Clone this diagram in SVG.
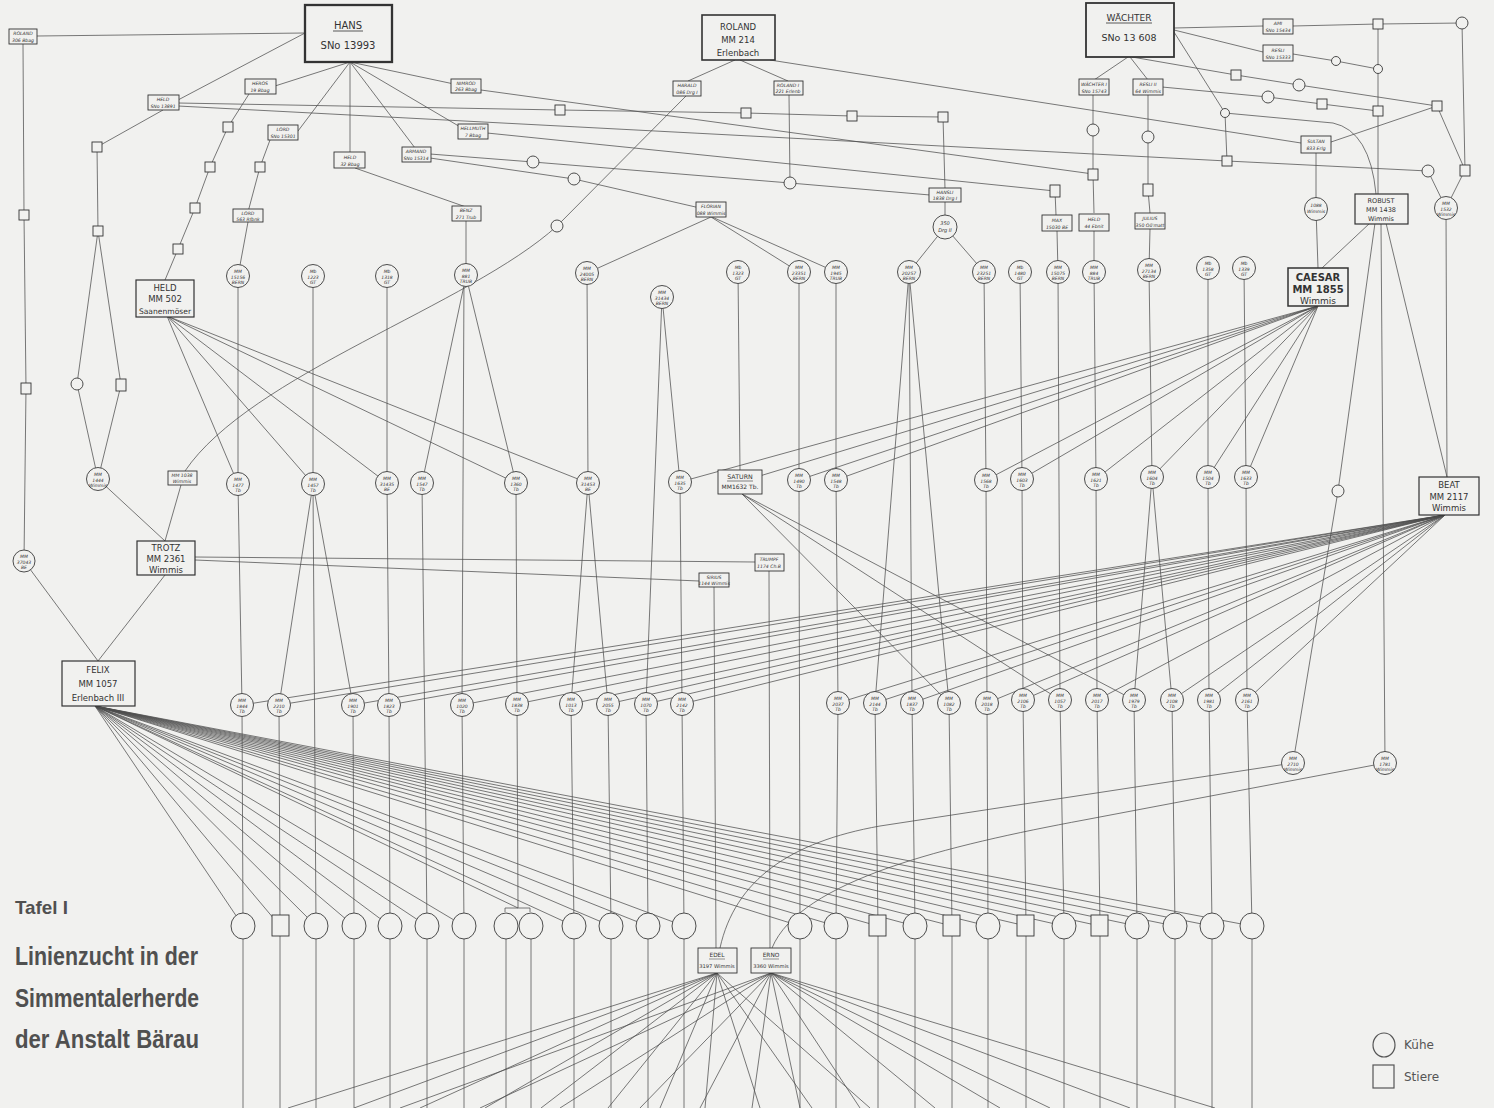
<svg xmlns="http://www.w3.org/2000/svg" width="1494" height="1108" viewBox="0 0 1494 1108">
<style>
.ln{stroke:#4e4e4e;stroke-width:0.75;fill:none}
.c{fill:#f1f1ef;stroke:#3a3a3a;stroke-width:0.9}
.sb{fill:#f1f1ef;stroke:#333;stroke-width:0.9}
.bb{fill:#f1f1ef;stroke:#333;stroke-width:1.2}
.s{font-family:"DejaVu Sans",sans-serif;font-size:4.6px;font-style:italic;fill:#333;text-anchor:middle}
.ct{font-family:"DejaVu Sans",sans-serif;font-size:4.5px;font-style:italic;fill:#333;text-anchor:middle}
.bt{font-family:"DejaVu Sans",sans-serif;font-size:8.5px;fill:#333;text-anchor:middle}
.ti{font-family:"Liberation Sans",sans-serif;font-weight:bold;fill:#505050}
.lg{font-family:"DejaVu Sans",sans-serif;font-size:12px;fill:#555}
</style>
<rect width="1494" height="1108" fill="#f1f1ef"/>

<g id="connectors" class="ln">
<path d="M37,36 L305,33"/>
<path d="M178,100 L305,33"/>
<path d="M23,44 L24,215 L26,388 L24,561"/>
<path d="M24,561 L98,661"/>
<path d="M163,110 L97,147 L98,231"/>
<path d="M98,231 L77,384 L98,479"/>
<path d="M98,231 L121,385 L98,479"/>
<path d="M98,479 L165,541"/>
<path d="M350,62 L275,86"/>
<path d="M249,94 L228,127 L210,167 L195,208 L178,249 L165,280"/>
<path d="M350,62 L298,131"/>
<path d="M270,140 L260,167 L248,212"/>
<path d="M248,222 L238,276"/>
<path d="M350,62 L350,152"/>
<path d="M355,168 L466,207"/>
<path d="M466,221 L466,276"/>
<path d="M350,62 L415,148"/>
<path d="M350,62 L462,128"/>
<path d="M350,62 L454,84"/>
<path d="M178,103 L560,110 L746,113 L852,116 L943,117 L945,189"/>
<path d="M178,106 L1227,161 L1428,171 L1446,208"/>
<path d="M481,90 L1093,174"/>
<path d="M487,133 L1055,191 L1056,215"/>
<path d="M430,154 L533,162 L790,183 L930,195"/>
<path d="M430,158 L574,179 L700,208"/>
<path d="M735,60 L688,81"/>
<path d="M740,60 L788,81"/>
<path d="M770,60 L1301,143"/>
<path d="M789,95 L790,183"/>
<path d="M686,96 L557,226 C470,305 250,375 185,471 L165,541"/>
<path d="M945,202 L945,227"/>
<path d="M945,227 L909,272"/>
<path d="M945,227 L984,272"/>
<path d="M711,217 L587,273"/>
<path d="M711,217 L799,272"/>
<path d="M712,217 L836,272"/>
<path d="M1128,57 L1094,80"/>
<path d="M1130,57 L1148,80"/>
<path d="M1174,28 L1263,26"/>
<path d="M1293,26 L1378,24 L1462,23"/>
<path d="M1174,30 L1263,52"/>
<path d="M1293,54 L1336,61 L1378,69"/>
<path d="M1174,32 L1225,113"/>
<path d="M1132,57 L1236,75 L1299,85 L1437,106"/>
<path d="M1162,87 L1268,97 L1322,104 L1378,111"/>
<path d="M1378,24 L1378,194"/>
<path d="M1462,23 L1465,170"/>
<path d="M1437,106 L1331,142"/>
<path d="M1437,106 L1465,170 L1446,208"/>
<path d="M1225,113 L1227,161"/>
<path d="M1225,113 L1333,123 Q1370,131 1376,194"/>
<path d="M1316,152 L1316,209 L1318,268"/>
<path d="M1093,95 L1093,130 L1093,174 L1094,213"/>
<path d="M1094,231 L1094,272"/>
<path d="M1057,231 L1058,272"/>
<path d="M1148,95 L1148,137 L1148,190 L1150,213"/>
<path d="M1150,229 L1149,270"/>
<path d="M1370,223 L1322,268"/>
<path d="M1381,223 L1385,763"/>
<path d="M1375,223 L1338,491 L1293,763"/>
<path d="M1386,223 L1447,477"/>
<path d="M1446,208 L1447,477"/>
<path d="M167,316 L238,484"/>
<path d="M167,316 L313,484"/>
<path d="M167,316 L387,483"/>
<path d="M167,316 L516,483"/>
<path d="M167,316 L588,483"/>
<path d="M238,276 L238,484 L242,705 L243,926 L243,1108"/>
<path d="M313,276 L313,484"/>
<path d="M313,484 L279,705 L280,926 L280,1108"/>
<path d="M313,484 L353,705 L354,926 L354,1108"/>
<path d="M313,484 L316,926 L316,1108"/>
<path d="M387,276 L387,483 L389,705 L390,926 L390,1108"/>
<path d="M466,276 L422,483"/>
<path d="M466,276 L516,483"/>
<path d="M464,276 L462,705 L464,926 L464,1108"/>
<path d="M422,483 L427,926 L427,1108"/>
<path d="M516,483 L517,704 L518,908"/>
<path d="M506,926 L506,1108"/>
<path d="M531,926 L531,1108"/>
<path d="M587,273 L588,483"/>
<path d="M588,483 L571,704 L574,926 L574,1108"/>
<path d="M588,483 L608,704 L611,926 L611,1108"/>
<path d="M662,297 L646,704 L648,926 L648,1108"/>
<path d="M662,297 L680,482 L682,704 L684,926 L684,1108"/>
<path d="M738,272 L740,471"/>
<path d="M742,494 L949,703"/>
<path d="M742,494 L1060,700"/>
<path d="M742,494 L1134,700"/>
<path d="M799,272 L799,480 L800,926 L800,1108"/>
<path d="M836,272 L836,480 L838,703 L836,926 L836,1108"/>
<path d="M909,272 L875,703 L878,926 L878,1108"/>
<path d="M909,272 L912,703 L915,926 L915,1108"/>
<path d="M909,272 L949,703 L952,926 L952,1108"/>
<path d="M984,272 L986,480 L987,703 L988,926 L988,1108"/>
<path d="M1020,272 L1022,479 L1023,700 L1026,926 L1026,1108"/>
<path d="M1058,272 L1060,700 L1064,926 L1064,1108"/>
<path d="M1094,272 L1096,479 L1097,700 L1100,926 L1100,1108"/>
<path d="M1149,270 L1152,477"/>
<path d="M1152,477 L1134,700 L1137,926 L1137,1108"/>
<path d="M1152,477 L1172,700 L1175,926 L1175,1108"/>
<path d="M1208,268 L1208,477 L1209,700 L1212,926 L1212,1108"/>
<path d="M1244,268 L1246,477 L1247,700 L1252,926 L1252,1108"/>
<path d="M1318,306 L680,482"/>
<path d="M1318,306 L740,482"/>
<path d="M1318,306 L799,480"/>
<path d="M1318,306 L836,480"/>
<path d="M1318,306 L986,480"/>
<path d="M1318,306 L1022,479"/>
<path d="M1318,306 L1096,479"/>
<path d="M1318,306 L1152,477"/>
<path d="M1318,306 L1208,477"/>
<path d="M1318,306 L1246,477"/>
<path d="M1445,515 L242,705"/>
<path d="M1445,515 L279,705"/>
<path d="M1445,515 L353,705"/>
<path d="M1445,515 L389,705"/>
<path d="M1445,515 L462,705"/>
<path d="M1445,515 L517,704"/>
<path d="M1445,515 L571,704"/>
<path d="M1445,515 L608,704"/>
<path d="M1445,515 L646,704"/>
<path d="M1445,515 L682,704"/>
<path d="M1445,515 L838,703"/>
<path d="M1445,515 L875,703"/>
<path d="M1445,515 L912,703"/>
<path d="M1445,515 L987,703"/>
<path d="M1445,515 L1023,700"/>
<path d="M1445,515 L1097,700"/>
<path d="M1445,515 L1172,700"/>
<path d="M1445,515 L1209,700"/>
<path d="M1445,515 L1247,700"/>
<path d="M195,557 L755,562"/>
<path d="M195,560 L699,581"/>
<path d="M165,575 L98,661"/>
<path d="M714,587 L716,948"/>
<path d="M769,571 L770,948"/>
<path d="M1293,763 L880,826 C790,842 735,880 720,948"/>
<path d="M1385,763 L1084,820 C950,845 800,880 772,948"/>
<path d="M95,706 L243,926"/>
<path d="M95,706 L280,926"/>
<path d="M95,706 L316,926"/>
<path d="M95,706 L354,926"/>
<path d="M95,706 L390,926"/>
<path d="M95,706 L427,926"/>
<path d="M95,706 L464,926"/>
<path d="M95,706 L518,908"/>
<path d="M505,912 L505,908 L530,908 L530,912"/>
<path d="M95,706 L574,926"/>
<path d="M95,706 L611,926"/>
<path d="M95,706 L648,926"/>
<path d="M95,706 L684,926"/>
<path d="M95,706 L800,926"/>
<path d="M95,706 L836,926"/>
<path d="M95,706 L878,926"/>
<path d="M95,706 L915,926"/>
<path d="M95,706 L952,926"/>
<path d="M95,706 L988,926"/>
<path d="M95,706 L1026,926"/>
<path d="M95,706 L1064,926"/>
<path d="M95,706 L1100,926"/>
<path d="M95,706 L1137,926"/>
<path d="M95,706 L1175,926"/>
<path d="M95,706 L1212,926"/>
<path d="M95,706 L1252,926"/>
<path d="M717,973 L288,1108"/>
<path d="M717,973 L354,1108"/>
<path d="M717,973 L420,1108"/>
<path d="M717,973 L485,1108"/>
<path d="M717,973 L541,1108"/>
<path d="M717,973 L608,1108"/>
<path d="M717,973 L660,1108"/>
<path d="M717,973 L705,1108"/>
<path d="M717,973 L760,1108"/>
<path d="M717,973 L812,1108"/>
<path d="M717,973 L870,1108"/>
<path d="M771,973 L400,1108"/>
<path d="M771,973 L480,1108"/>
<path d="M771,973 L560,1108"/>
<path d="M771,973 L640,1108"/>
<path d="M771,973 L700,1108"/>
<path d="M771,973 L752,1108"/>
<path d="M771,973 L800,1108"/>
<path d="M771,973 L860,1108"/>
<path d="M771,973 L935,1108"/>
<path d="M771,973 L1000,1108"/>
<path d="M771,973 L1050,1108"/>
<path d="M771,973 L1130,1108"/>
<path d="M771,973 L1215,1108"/>
</g>

<g id="n-hans"><rect x="305" y="5" width="87" height="57" fill="#f1f1ef" stroke="#333" stroke-width="2.3"/><text class="bt" x="348" y="29" style="font-size:10px">HANS</text><line x1="333" y1="31" x2="363" y2="31" stroke="#333" stroke-width="0.8"/><text class="bt" x="348" y="49" style="font-size:10px">SNo 13993</text></g>
<g id="n-roland214"><rect x="702" y="15" width="73" height="45" fill="#f1f1ef" stroke="#333" stroke-width="1.6"/><text class="bt" x="738" y="30">ROLAND</text><text class="bt" x="738" y="43">MM 214</text><text class="bt" x="738" y="56">Erlenbach</text></g>
<g id="n-waechter"><rect x="1086" y="3" width="88" height="54" fill="#f1f1ef" stroke="#333" stroke-width="1.8"/><text class="bt" x="1129" y="21" style="font-size:9px">WÄCHTER</text><line x1="1106" y1="23" x2="1152" y2="23" stroke="#333" stroke-width="0.8"/><text class="bt" x="1129" y="41" style="font-size:9.5px">SNo 13 608</text></g>
<g id="n-robust"><rect class="bb" x="1355" y="194" width="53" height="30"/><text class="bt" x="1381" y="203" style="font-size:6.5px">ROBUST</text><text class="bt" x="1381" y="212" style="font-size:6.5px">MM 1438</text><text class="bt" x="1381" y="221" style="font-size:6.5px">Wimmis</text></g>
<g id="n-caesar"><rect x="1288" y="268" width="60" height="38" fill="#f1f1ef" stroke="#333" stroke-width="1.5"/><text class="bt" x="1318" y="281" style="font-size:10px;font-weight:bold">CAESAR</text><text class="bt" x="1318" y="293" style="font-size:10px;font-weight:bold">MM 1855</text><text class="bt" x="1318" y="304" style="font-size:9px">Wimmis</text></g>
<g id="n-held502"><rect class="bb" x="136" y="280" width="58" height="37"/><text class="bt" x="165" y="291">HELD</text><text class="bt" x="165" y="302">MM 502</text><text class="bt" x="165" y="314" style="font-size:7.6px">Saanenmöser</text></g>
<g id="n-beat"><rect class="bb" x="1419" y="477" width="60" height="38"/><text class="bt" x="1449" y="488">BEAT</text><text class="bt" x="1449" y="500">MM 2117</text><text class="bt" x="1449" y="511">Wimmis</text></g>
<g id="n-trotz"><rect class="bb" x="137" y="541" width="58" height="34"/><text class="bt" x="166" y="551">TROTZ</text><text class="bt" x="166" y="562">MM 2361</text><text class="bt" x="166" y="573">Wimmis</text></g>
<g id="n-felix"><rect class="bb" x="62" y="661" width="73" height="45"/><text class="bt" x="98" y="673">FELIX</text><text class="bt" x="98" y="687">MM 1057</text><text class="bt" x="98" y="701">Erlenbach III</text></g>
<g id="n-saturn"><rect class="sb" x="718" y="470" width="44" height="24"/><text class="bt" x="740" y="479" style="font-size:6.3px">SATURN</text><line x1="727" y1="481" x2="753" y2="481" stroke="#333" stroke-width="0.6"/><text class="bt" x="740" y="489" style="font-size:6px">MM1632 Tb.</text></g>
<g id="n-edel"><rect class="sb" x="698" y="948" width="39" height="25"/><text class="bt" x="717" y="957" style="font-size:5.8px">EDEL</text><line x1="709" y1="959" x2="725" y2="959" stroke="#333" stroke-width="0.5"/><text class="bt" x="717" y="968" style="font-size:5.2px">3197 Wimmis</text></g>
<g id="n-erno"><rect class="sb" x="751" y="948" width="40" height="25"/><text class="bt" x="771" y="957" style="font-size:5.8px">ERNO</text><line x1="763" y1="959" x2="779" y2="959" stroke="#333" stroke-width="0.5"/><text class="bt" x="771" y="968" style="font-size:5.2px">3360 Wimmis</text></g>

<g id="n-roland306"><rect class="sb" x="9" y="29" width="28" height="15"/><text class="s" x="23" y="35">ROLAND</text><text class="s" x="23" y="41.5">306 Bbag</text></g>
<g id="n-heros"><rect class="sb" x="245" y="79" width="31" height="15"/><text class="s" x="260" y="85">HEROS</text><text class="s" x="260" y="91.5">19 Bbag</text></g>
<g id="n-held13891"><rect class="sb" x="148" y="95" width="31" height="15"/><text class="s" x="163" y="101">HELD</text><text class="s" x="163" y="107.5">SNo 13891</text></g>
<g id="n-nimrod"><rect class="sb" x="451" y="79" width="30" height="14"/><text class="s" x="466" y="85">NIMROD</text><text class="s" x="466" y="91">263 Bbag</text></g>
<g id="n-hellmuth"><rect class="sb" x="458" y="124" width="30" height="15"/><text class="s" x="473" y="130">HELLMUTH</text><text class="s" x="473" y="136.5">7 Bbag</text></g>
<g id="n-lord15301"><rect class="sb" x="268" y="125" width="30" height="15"/><text class="s" x="283" y="131">LORD</text><text class="s" x="283" y="137.5">SNo 15301</text></g>
<g id="n-held32"><rect class="sb" x="334" y="152" width="31" height="16"/><text class="s" x="350" y="159">HELD</text><text class="s" x="350" y="165.5">32 Bbag</text></g>
<g id="n-armand"><rect class="sb" x="402" y="147" width="29" height="15"/><text class="s" x="416" y="153">ARMAND</text><text class="s" x="416" y="159.5">SNo 15314</text></g>
<g id="n-benz"><rect class="sb" x="452" y="206" width="29" height="15"/><text class="s" x="466" y="212">BENZ</text><text class="s" x="466" y="218.5">271 Trub</text></g>
<g id="n-lord563"><rect class="sb" x="233" y="209" width="30" height="13"/><text class="s" x="248" y="215">LORD</text><text class="s" x="248" y="220.5">563 Rfbnk</text></g>
<g id="n-harald"><rect class="sb" x="673" y="81" width="28" height="15"/><text class="s" x="687" y="87">HARALD</text><text class="s" x="687" y="93.5">086 Drg I</text></g>
<g id="n-roland221"><rect class="sb" x="774" y="81" width="29" height="14"/><text class="s" x="788" y="87">ROLAND I</text><text class="s" x="788" y="93">221 Erlenb</text></g>
<g id="n-florian"><rect class="sb" x="696" y="202" width="30" height="15"/><text class="s" x="711" y="208">FLORIAN</text><text class="s" x="711" y="214.5">088 Wimmis</text></g>
<g id="n-hansli"><rect class="sb" x="929" y="188" width="32" height="14"/><text class="s" x="945" y="194">HANSLI</text><text class="s" x="945" y="200">1838 Drg I</text></g>
<g id="n-waechter1"><rect class="sb" x="1079" y="79" width="30" height="16"/><text class="s" x="1094" y="86">WÄCHTER I</text><text class="s" x="1094" y="92.5">SNo 15743</text></g>
<g id="n-resli2"><rect class="sb" x="1133" y="79" width="30" height="16"/><text class="s" x="1148" y="86">RESLI II</text><text class="s" x="1148" y="92.5">64 Wimmis</text></g>
<g id="n-ami"><rect class="sb" x="1263" y="19" width="30" height="15"/><text class="s" x="1278" y="25">AMI</text><text class="s" x="1278" y="31.5">SNo 15434</text></g>
<g id="n-resli"><rect class="sb" x="1263" y="45" width="30" height="16"/><text class="s" x="1278" y="52">RESLI</text><text class="s" x="1278" y="58.5">SNo 15333</text></g>
<g id="n-sultan"><rect class="sb" x="1301" y="136" width="30" height="17"/><text class="s" x="1316" y="143">SULTAN</text><text class="s" x="1316" y="150">833 Erlg</text></g>
<g id="n-max"><rect class="sb" x="1042" y="215" width="30" height="16"/><text class="s" x="1057" y="222">MAX</text><text class="s" x="1057" y="228.5">15030 BE</text></g>
<g id="n-held44"><rect class="sb" x="1079" y="214" width="30" height="17"/><text class="s" x="1094" y="221">HELD</text><text class="s" x="1094" y="228">44 Ebnit</text></g>
<g id="n-julius"><rect class="sb" x="1135" y="213" width="30" height="16"/><text class="s" x="1150" y="220">JULIUS</text><text class="s" x="1150" y="226.5">350 Oö'matt</text></g>
<g id="n-mm1038"><rect class="sb" x="168" y="471" width="29" height="14"/><text class="s" x="182" y="477">MM 1038</text><text class="s" x="182" y="483">Wimmis</text></g>
<g id="n-trumpf"><rect class="sb" x="755" y="554" width="29" height="17"/><text class="s" x="769" y="561">TRUMPF</text><text class="s" x="769" y="568">1174 Ch.B</text></g>
<g id="n-sirius"><rect class="sb" x="699" y="573" width="30" height="14"/><text class="s" x="714" y="579">SIRIUS</text><text class="s" x="714" y="585">1144 Wimmis</text></g>

<g id="sq-1"><rect class="sb" x="19" y="210" width="10" height="10"/></g>
<g id="sq-2"><rect class="sb" x="21" y="383" width="10" height="11"/></g>
<g id="sq-3"><rect class="sb" x="92" y="142" width="10" height="10"/></g>
<g id="sq-4"><rect class="sb" x="93" y="226" width="10" height="10"/></g>
<g id="sq-5"><rect class="sb" x="116" y="379" width="10" height="12"/></g>
<g id="sq-6"><rect class="sb" x="223" y="122" width="10" height="10"/></g>
<g id="sq-7"><rect class="sb" x="205" y="162" width="10" height="10"/></g>
<g id="sq-8"><rect class="sb" x="190" y="203" width="10" height="10"/></g>
<g id="sq-9"><rect class="sb" x="173" y="244" width="10" height="10"/></g>
<g id="sq-10"><rect class="sb" x="255" y="162" width="10" height="10"/></g>
<g id="sq-11"><rect class="sb" x="555" y="105" width="10" height="10"/></g>
<g id="sq-12"><rect class="sb" x="741" y="108" width="10" height="10"/></g>
<g id="sq-13"><rect class="sb" x="847" y="111" width="10" height="10"/></g>
<g id="sq-14"><rect class="sb" x="938" y="112" width="10" height="10"/></g>
<g id="sq-15"><rect class="sb" x="1050" y="185" width="10" height="12"/></g>
<g id="sq-16"><rect class="sb" x="1088" y="169" width="10" height="11"/></g>
<g id="sq-17"><rect class="sb" x="1143" y="184" width="10" height="12"/></g>
<g id="sq-18"><rect class="sb" x="1222" y="156" width="10" height="10"/></g>
<g id="sq-19"><rect class="sb" x="1373" y="19" width="10" height="10"/></g>
<g id="sq-20"><rect class="sb" x="1231" y="70" width="10" height="10"/></g>
<g id="sq-21"><rect class="sb" x="1317" y="99" width="10" height="10"/></g>
<g id="sq-22"><rect class="sb" x="1373" y="106" width="10" height="10"/></g>
<g id="sq-23"><rect class="sb" x="1432" y="101" width="10" height="10"/></g>
<g id="sq-24"><rect class="sb" x="1460" y="165" width="10" height="11"/></g>

<g id="sc-1"><circle class="c" cx="533" cy="162" r="6"/></g>
<g id="sc-2"><circle class="c" cx="574" cy="179" r="6"/></g>
<g id="sc-3"><circle class="c" cx="790" cy="183" r="6"/></g>
<g id="sc-4"><circle class="c" cx="557" cy="226" r="6"/></g>
<g id="sc-5"><circle class="c" cx="1093" cy="130" r="6"/></g>
<g id="sc-6"><circle class="c" cx="1148" cy="137" r="6"/></g>
<g id="sc-7"><circle class="c" cx="1225" cy="113" r="4.5"/></g>
<g id="sc-8"><circle class="c" cx="1336" cy="61" r="4.5"/></g>
<g id="sc-9"><circle class="c" cx="1378" cy="69" r="4.5"/></g>
<g id="sc-10"><circle class="c" cx="1462" cy="23" r="6"/></g>
<g id="sc-11"><circle class="c" cx="1268" cy="97" r="6"/></g>
<g id="sc-12"><circle class="c" cx="1299" cy="85" r="6"/></g>
<g id="sc-13"><circle class="c" cx="1428" cy="171" r="6"/></g>
<g id="sc-14"><circle class="c" cx="77" cy="384" r="6"/></g>
<g id="sc-15"><circle class="c" cx="1338" cy="491" r="6"/></g>

<g id="n-15156"><circle class="c" cx="238" cy="276" r="11.5"/><text class="ct" x="238" y="273">MM</text><text class="ct" x="238" y="278.5">15156</text><text class="ct" x="238" y="284">BERN</text></g>
<g id="n-1223"><circle class="c" cx="313" cy="276" r="11.5"/><text class="ct" x="313" y="273">Mb</text><text class="ct" x="313" y="278.5">1223</text><text class="ct" x="313" y="284">GT</text></g>
<g id="n-1318"><circle class="c" cx="387" cy="276" r="11.5"/><text class="ct" x="387" y="273">Mb</text><text class="ct" x="387" y="278.5">1318</text><text class="ct" x="387" y="284">GT</text></g>
<g id="n-881"><circle class="c" cx="466" cy="275" r="11.5"/><text class="ct" x="466" y="272">MM</text><text class="ct" x="466" y="277.5">881</text><text class="ct" x="466" y="283">TRUB</text></g>
<g id="n-24005"><circle class="c" cx="587" cy="273" r="11.5"/><text class="ct" x="587" y="270">MM</text><text class="ct" x="587" y="275.5">24005</text><text class="ct" x="587" y="281">BERN</text></g>
<g id="n-31434"><circle class="c" cx="662" cy="297" r="11.5"/><text class="ct" x="662" y="294">MM</text><text class="ct" x="662" y="299.5">31434</text><text class="ct" x="662" y="305">BERN</text></g>
<g id="n-1323"><circle class="c" cx="738" cy="272" r="11.5"/><text class="ct" x="738" y="269">Mb</text><text class="ct" x="738" y="274.5">1323</text><text class="ct" x="738" y="280">GT</text></g>
<g id="n-23351"><circle class="c" cx="799" cy="272" r="11.5"/><text class="ct" x="799" y="269">MM</text><text class="ct" x="799" y="274.5">23351</text><text class="ct" x="799" y="280">BERN</text></g>
<g id="n-1945"><circle class="c" cx="836" cy="272" r="11.5"/><text class="ct" x="836" y="269">MM</text><text class="ct" x="836" y="274.5">1945</text><text class="ct" x="836" y="280">TRUB</text></g>
<g id="n-20257"><circle class="c" cx="909" cy="272" r="11.5"/><text class="ct" x="909" y="269">MM</text><text class="ct" x="909" y="274.5">20257</text><text class="ct" x="909" y="280">BERN</text></g>
<g id="n-23251"><circle class="c" cx="984" cy="272" r="11.5"/><text class="ct" x="984" y="269">MM</text><text class="ct" x="984" y="274.5">23251</text><text class="ct" x="984" y="280">BERN</text></g>
<g id="n-1480"><circle class="c" cx="1020" cy="272" r="11.5"/><text class="ct" x="1020" y="269">Mb</text><text class="ct" x="1020" y="274.5">1480</text><text class="ct" x="1020" y="280">GT</text></g>
<g id="n-15075"><circle class="c" cx="1058" cy="272" r="11.5"/><text class="ct" x="1058" y="269">MM</text><text class="ct" x="1058" y="274.5">15075</text><text class="ct" x="1058" y="280">BERN</text></g>
<g id="n-884"><circle class="c" cx="1094" cy="272" r="11.5"/><text class="ct" x="1094" y="269">MM</text><text class="ct" x="1094" y="274.5">884</text><text class="ct" x="1094" y="280">TRUB</text></g>
<g id="n-27134"><circle class="c" cx="1149" cy="270" r="11.5"/><text class="ct" x="1149" y="267">MM</text><text class="ct" x="1149" y="272.5">27134</text><text class="ct" x="1149" y="278">BERN</text></g>
<g id="n-1358"><circle class="c" cx="1208" cy="268" r="11.5"/><text class="ct" x="1208" y="265">Mb</text><text class="ct" x="1208" y="270.5">1358</text><text class="ct" x="1208" y="276">GT</text></g>
<g id="n-1339"><circle class="c" cx="1244" cy="268" r="11.5"/><text class="ct" x="1244" y="265">Mb</text><text class="ct" x="1244" y="270.5">1339</text><text class="ct" x="1244" y="276">GT</text></g>
<g id="n-350"><circle class="c" cx="945" cy="227" r="12"/><text class="ct" x="945" y="225" style="font-size:5px">350</text><text class="ct" x="945" y="232" style="font-size:5px">Drg II</text></g>
<g id="n-1088"><circle class="c" cx="1316" cy="209" r="11.5"/><text class="ct" x="1316" y="207">1088</text><text class="ct" x="1316" y="213">Wimmis</text></g>
<g id="n-1532"><circle class="c" cx="1446" cy="208" r="11.5"/><text class="ct" x="1446" y="205">MM</text><text class="ct" x="1446" y="210.5">1532</text><text class="ct" x="1446" y="216">Wimmis</text></g>

<g id="n-1444"><circle class="c" cx="98" cy="479" r="11.5"/><text class="ct" x="98" y="476">MM</text><text class="ct" x="98" y="481.5">1444</text><text class="ct" x="98" y="487">Wimmis</text></g>
<g id="n-37043"><circle class="c" cx="24" cy="561" r="11"/><text class="ct" x="24" y="558">MM</text><text class="ct" x="24" y="563.5">37043</text><text class="ct" x="24" y="569">BE</text></g>
<g id="n-1477"><circle class="c" cx="238" cy="484" r="11.5"/><text class="ct" x="238" y="481">MM</text><text class="ct" x="238" y="486.5">1477</text><text class="ct" x="238" y="492">Tb</text></g>
<g id="n-1457"><circle class="c" cx="313" cy="484" r="11.5"/><text class="ct" x="313" y="481">MM</text><text class="ct" x="313" y="486.5">1457</text><text class="ct" x="313" y="492">Tb</text></g>
<g id="n-31435"><circle class="c" cx="387" cy="483" r="11.5"/><text class="ct" x="387" y="480">MM</text><text class="ct" x="387" y="485.5">31435</text><text class="ct" x="387" y="491">BE</text></g>
<g id="n-1547"><circle class="c" cx="422" cy="483" r="11.5"/><text class="ct" x="422" y="480">MM</text><text class="ct" x="422" y="485.5">1547</text><text class="ct" x="422" y="491">Tb</text></g>
<g id="n-1360"><circle class="c" cx="516" cy="483" r="11.5"/><text class="ct" x="516" y="480">MM</text><text class="ct" x="516" y="485.5">1360</text><text class="ct" x="516" y="491">Tb</text></g>
<g id="n-31453"><circle class="c" cx="588" cy="483" r="11.5"/><text class="ct" x="588" y="480">MM</text><text class="ct" x="588" y="485.5">31453</text><text class="ct" x="588" y="491">BE</text></g>
<g id="n-1635"><circle class="c" cx="680" cy="482" r="11.5"/><text class="ct" x="680" y="479">MM</text><text class="ct" x="680" y="484.5">1635</text><text class="ct" x="680" y="490">Tb</text></g>
<g id="n-1490"><circle class="c" cx="799" cy="480" r="11.5"/><text class="ct" x="799" y="477">MM</text><text class="ct" x="799" y="482.5">1490</text><text class="ct" x="799" y="488">Tb</text></g>
<g id="n-1548"><circle class="c" cx="836" cy="480" r="11.5"/><text class="ct" x="836" y="477">MM</text><text class="ct" x="836" y="482.5">1548</text><text class="ct" x="836" y="488">Tb</text></g>
<g id="n-1568"><circle class="c" cx="986" cy="480" r="11.5"/><text class="ct" x="986" y="477">MM</text><text class="ct" x="986" y="482.5">1568</text><text class="ct" x="986" y="488">Tb</text></g>
<g id="n-1603"><circle class="c" cx="1022" cy="479" r="11.5"/><text class="ct" x="1022" y="476">MM</text><text class="ct" x="1022" y="481.5">1603</text><text class="ct" x="1022" y="487">Tb</text></g>
<g id="n-1621"><circle class="c" cx="1096" cy="479" r="11.5"/><text class="ct" x="1096" y="476">MM</text><text class="ct" x="1096" y="481.5">1621</text><text class="ct" x="1096" y="487">Tb</text></g>
<g id="n-1604"><circle class="c" cx="1152" cy="477" r="11.5"/><text class="ct" x="1152" y="474">MM</text><text class="ct" x="1152" y="479.5">1604</text><text class="ct" x="1152" y="485">Tb</text></g>
<g id="n-1504"><circle class="c" cx="1208" cy="477" r="11.5"/><text class="ct" x="1208" y="474">MM</text><text class="ct" x="1208" y="479.5">1504</text><text class="ct" x="1208" y="485">Tb</text></g>
<g id="n-1633"><circle class="c" cx="1246" cy="477" r="11.5"/><text class="ct" x="1246" y="474">MM</text><text class="ct" x="1246" y="479.5">1633</text><text class="ct" x="1246" y="485">Tb</text></g>

<g id="n-1844"><circle class="c" cx="242" cy="705" r="11.5"/><text class="ct" x="242" y="702">MM</text><text class="ct" x="242" y="707.5">1844</text><text class="ct" x="242" y="713">Tb</text></g>
<g id="n-2210"><circle class="c" cx="279" cy="705" r="11.5"/><text class="ct" x="279" y="702">MM</text><text class="ct" x="279" y="707.5">2210</text><text class="ct" x="279" y="713">Tb</text></g>
<g id="n-1901"><circle class="c" cx="353" cy="705" r="11.5"/><text class="ct" x="353" y="702">MM</text><text class="ct" x="353" y="707.5">1901</text><text class="ct" x="353" y="713">Tb</text></g>
<g id="n-1823"><circle class="c" cx="389" cy="705" r="11.5"/><text class="ct" x="389" y="702">MM</text><text class="ct" x="389" y="707.5">1823</text><text class="ct" x="389" y="713">Tb</text></g>
<g id="n-1020"><circle class="c" cx="462" cy="705" r="11.5"/><text class="ct" x="462" y="702">MM</text><text class="ct" x="462" y="707.5">1020</text><text class="ct" x="462" y="713">Tb</text></g>
<g id="n-1838"><circle class="c" cx="517" cy="704" r="11.5"/><text class="ct" x="517" y="701">MM</text><text class="ct" x="517" y="706.5">1838</text><text class="ct" x="517" y="712">Tb</text></g>
<g id="n-1013"><circle class="c" cx="571" cy="704" r="11.5"/><text class="ct" x="571" y="701">MM</text><text class="ct" x="571" y="706.5">1013</text><text class="ct" x="571" y="712">Tb</text></g>
<g id="n-2055"><circle class="c" cx="608" cy="704" r="11.5"/><text class="ct" x="608" y="701">MM</text><text class="ct" x="608" y="706.5">2055</text><text class="ct" x="608" y="712">Tb</text></g>
<g id="n-1070"><circle class="c" cx="646" cy="704" r="11.5"/><text class="ct" x="646" y="701">MM</text><text class="ct" x="646" y="706.5">1070</text><text class="ct" x="646" y="712">Tb</text></g>
<g id="n-2142"><circle class="c" cx="682" cy="704" r="11.5"/><text class="ct" x="682" y="701">MM</text><text class="ct" x="682" y="706.5">2142</text><text class="ct" x="682" y="712">Tb</text></g>
<g id="n-2037"><circle class="c" cx="838" cy="703" r="11.5"/><text class="ct" x="838" y="700">MM</text><text class="ct" x="838" y="705.5">2037</text><text class="ct" x="838" y="711">Tb</text></g>
<g id="n-2144"><circle class="c" cx="875" cy="703" r="11.5"/><text class="ct" x="875" y="700">MM</text><text class="ct" x="875" y="705.5">2144</text><text class="ct" x="875" y="711">Tb</text></g>
<g id="n-1837"><circle class="c" cx="912" cy="703" r="11.5"/><text class="ct" x="912" y="700">MM</text><text class="ct" x="912" y="705.5">1837</text><text class="ct" x="912" y="711">Tb</text></g>
<g id="n-1082"><circle class="c" cx="949" cy="703" r="11.5"/><text class="ct" x="949" y="700">MM</text><text class="ct" x="949" y="705.5">1082</text><text class="ct" x="949" y="711">Tb</text></g>
<g id="n-2018"><circle class="c" cx="987" cy="703" r="11.5"/><text class="ct" x="987" y="700">MM</text><text class="ct" x="987" y="705.5">2018</text><text class="ct" x="987" y="711">Tb</text></g>
<g id="n-2106"><circle class="c" cx="1023" cy="700" r="11.5"/><text class="ct" x="1023" y="697">MM</text><text class="ct" x="1023" y="702.5">2106</text><text class="ct" x="1023" y="708">Tb</text></g>
<g id="n-1057"><circle class="c" cx="1060" cy="700" r="11.5"/><text class="ct" x="1060" y="697">MM</text><text class="ct" x="1060" y="702.5">1057</text><text class="ct" x="1060" y="708">Tb</text></g>
<g id="n-2017"><circle class="c" cx="1097" cy="700" r="11.5"/><text class="ct" x="1097" y="697">MM</text><text class="ct" x="1097" y="702.5">2017</text><text class="ct" x="1097" y="708">Tb</text></g>
<g id="n-1979"><circle class="c" cx="1134" cy="700" r="11.5"/><text class="ct" x="1134" y="697">MM</text><text class="ct" x="1134" y="702.5">1979</text><text class="ct" x="1134" y="708">Tb</text></g>
<g id="n-2108"><circle class="c" cx="1172" cy="700" r="11.5"/><text class="ct" x="1172" y="697">MM</text><text class="ct" x="1172" y="702.5">2108</text><text class="ct" x="1172" y="708">Tb</text></g>
<g id="n-1981"><circle class="c" cx="1209" cy="700" r="11.5"/><text class="ct" x="1209" y="697">MM</text><text class="ct" x="1209" y="702.5">1981</text><text class="ct" x="1209" y="708">Tb</text></g>
<g id="n-2161"><circle class="c" cx="1247" cy="700" r="11.5"/><text class="ct" x="1247" y="697">MM</text><text class="ct" x="1247" y="702.5">2161</text><text class="ct" x="1247" y="708">Tb</text></g>
<g id="n-2710"><circle class="c" cx="1293" cy="763" r="11.5"/><text class="ct" x="1293" y="760">MM</text><text class="ct" x="1293" y="765.5">2710</text><text class="ct" x="1293" y="771">Wimmis</text></g>
<g id="n-1781"><circle class="c" cx="1385" cy="763" r="11.5"/><text class="ct" x="1385" y="760">MM</text><text class="ct" x="1385" y="765.5">1781</text><text class="ct" x="1385" y="771">Wimmis</text></g>

<g id="b-243"><ellipse class="c" cx="243" cy="926" rx="12" ry="13"/></g>
<g id="b-280"><rect class="sb" x="272" y="915" width="17" height="21"/></g>
<g id="b-316"><ellipse class="c" cx="316" cy="926" rx="12" ry="13"/></g>
<g id="b-354"><ellipse class="c" cx="354" cy="926" rx="12" ry="13"/></g>
<g id="b-390"><ellipse class="c" cx="390" cy="926" rx="12" ry="13"/></g>
<g id="b-427"><ellipse class="c" cx="427" cy="926" rx="12" ry="13"/></g>
<g id="b-464"><ellipse class="c" cx="464" cy="926" rx="12" ry="13"/></g>
<g id="b-506"><ellipse class="c" cx="506" cy="926" rx="12" ry="13"/></g>
<g id="b-531"><ellipse class="c" cx="531" cy="926" rx="12" ry="13"/></g>
<g id="b-574"><ellipse class="c" cx="574" cy="926" rx="12" ry="13"/></g>
<g id="b-611"><ellipse class="c" cx="611" cy="926" rx="12" ry="13"/></g>
<g id="b-648"><ellipse class="c" cx="648" cy="926" rx="12" ry="13"/></g>
<g id="b-684"><ellipse class="c" cx="684" cy="926" rx="12" ry="13"/></g>
<g id="b-800"><ellipse class="c" cx="800" cy="926" rx="12" ry="13"/></g>
<g id="b-836"><ellipse class="c" cx="836" cy="926" rx="12" ry="13"/></g>
<g id="b-878"><rect class="sb" x="869" y="915" width="17" height="21"/></g>
<g id="b-915"><ellipse class="c" cx="915" cy="926" rx="12" ry="13"/></g>
<g id="b-952"><rect class="sb" x="943" y="915" width="17" height="21"/></g>
<g id="b-988"><ellipse class="c" cx="988" cy="926" rx="12" ry="13"/></g>
<g id="b-1026"><rect class="sb" x="1017" y="915" width="17" height="21"/></g>
<g id="b-1064"><ellipse class="c" cx="1064" cy="926" rx="12" ry="13"/></g>
<g id="b-1100"><rect class="sb" x="1091" y="915" width="17" height="21"/></g>
<g id="b-1137"><ellipse class="c" cx="1137" cy="926" rx="12" ry="13"/></g>
<g id="b-1175"><ellipse class="c" cx="1175" cy="926" rx="12" ry="13"/></g>
<g id="b-1212"><ellipse class="c" cx="1212" cy="926" rx="12" ry="13"/></g>
<g id="b-1252"><ellipse class="c" cx="1252" cy="926" rx="12" ry="13"/></g>

<g id="title">
<text class="ti" x="15" y="914" font-size="19" textLength="53" lengthAdjust="spacingAndGlyphs">Tafel I</text>
<text class="ti" x="15" y="965" font-size="25" textLength="183" lengthAdjust="spacingAndGlyphs">Linienzucht in der</text>
<text class="ti" x="15" y="1007" font-size="25" textLength="184" lengthAdjust="spacingAndGlyphs">Simmentalerherde</text>
<text class="ti" x="15" y="1048" font-size="25" textLength="184" lengthAdjust="spacingAndGlyphs">der Anstalt Bärau</text>
</g>

<g id="legend">
<ellipse cx="1384" cy="1045" rx="11" ry="12" fill="none" stroke="#555" stroke-width="1.2"/>
<text class="lg" x="1404" y="1049">Kühe</text>
<rect x="1373" y="1065" width="21" height="23" fill="none" stroke="#555" stroke-width="1.2"/>
<text class="lg" x="1404" y="1081">Stiere</text>
</g>
</svg>
